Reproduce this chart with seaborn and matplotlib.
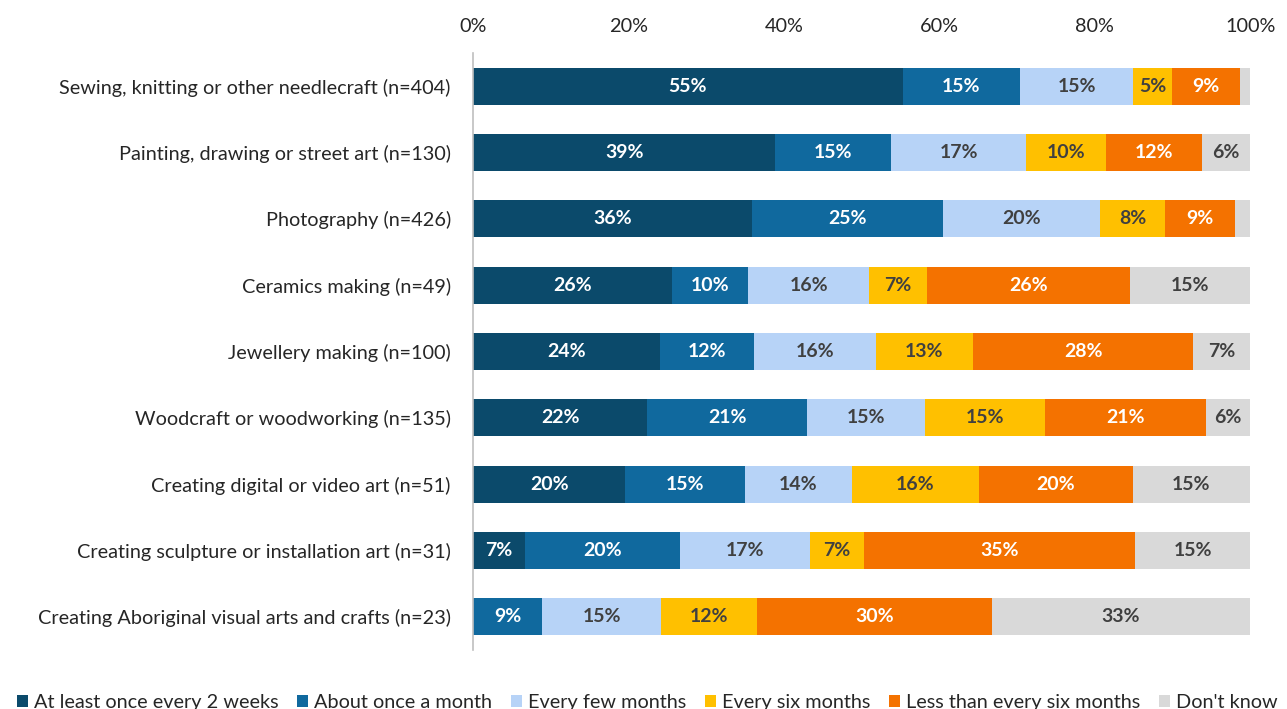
import numpy as np
import pandas as pd
import matplotlib
matplotlib.use("Agg")
import matplotlib.pyplot as plt
import seaborn as sns
from matplotlib.patches import Patch

categories = [
    "Sewing, knitting or other needlecraft (n=404)",
    "Painting, drawing or street art (n=130)",
    "Photography (n=426)",
    "Ceramics making (n=49)",
    "Jewellery making (n=100)",
    "Woodcraft or woodworking (n=135)",
    "Creating digital or video art (n=51)",
    "Creating sculpture or installation art (n=31)",
    "Creating Aboriginal visual arts and crafts (n=23)",
]
series_names = [
    "At least once every 2 weeks",
    "About once a month",
    "Every few months",
    "Every six months",
    "Less than every six months",
    "Don't know",
]
at_least_2weeks = [55.3, 38.9, 35.9, 25.6, 24.1, 22.4, 19.6, 6.7, 0.0]
once_a_month    = [15.1, 14.9, 24.6, 9.8, 12.1, 20.6, 15.4, 19.9, 8.9]
few_months      = [14.6, 17.4, 20.2, 15.6, 15.6, 15.2, 13.8, 16.8, 15.3]
six_months      = [5.0, 10.3, 8.4, 7.4, 12.6, 15.4, 16.3, 6.9, 12.4]
less_six_months = [8.7, 12.3, 9.0, 26.2, 28.3, 20.7, 19.8, 34.9, 30.2]
dont_know       = [1.3, 6.2, 1.9, 15.4, 7.3, 5.7, 15.1, 14.8, 33.2]
x_ticks = [0, 20, 40, 60, 80, 100]

colors = ["#0B4A6B", "#10699E", "#B7D3F7", "#FFC000", "#F47200", "#D9D9D9"]
text_colors = ["white", "white", "#404040", "#404040", "white", "#404040"]

series = [at_least_2weeks, once_a_month, few_months, six_months, less_six_months, dont_know]
vals = np.array(series)  # shape (6, 9)
cum = np.cumsum(vals, axis=0)

sns.set_theme(style="white")
plt.rcParams["font.family"] = ["Lato", "DejaVu Sans"]

fig = plt.figure(figsize=(12.87, 7.09), dpi=100)
ax = fig.add_axes([0.3675, 0.0832, 0.6038, 0.842])

for k in range(len(series) - 1, -1, -1):
    df = pd.DataFrame({"category": categories, "value": cum[k]})
    sns.barplot(data=df, y="category", x="value", order=categories,
                color=colors[k], saturation=1, width=0.56, ax=ax,
                edgecolor="none", linewidth=0)

# labels
for k in range(len(series)):
    for i in range(len(categories)):
        v = vals[k, i]
        if v < 3:
            continue
        xc = cum[k, i] - v / 2
        ax.text(xc, i, f"{round(v):.0f}%", ha="center", va="center",
                fontsize=14, fontweight="bold", color=text_colors[k])

ax.set_xlim(0, 100)
ax.set_ylim(8.5, -0.5)
ax.xaxis.tick_top()
ax.set_xticks(x_ticks)
ax.set_xticklabels([f"{t}%" for t in x_ticks])
ax.tick_params(axis="x", length=0, labelsize=14.3, pad=13, colors="#262626")
ax.tick_params(axis="y", length=0, labelsize=14.3, pad=16, colors="#262626")
ax.set_xlabel("")
ax.set_ylabel("")
for s in ["top", "right", "bottom"]:
    ax.spines[s].set_visible(False)
ax.spines["left"].set_color("#BFBFBF")
ax.spines["left"].set_linewidth(1.2)

handles = [Patch(facecolor=c, edgecolor="none") for c in colors]
fig.legend(handles, series_names, loc="lower center", bbox_to_anchor=(0.503, -0.028),
           ncol=6, frameon=False, fontsize=14.3, handlelength=0.55, handleheight=0.55,
           handletextpad=0.3, columnspacing=0.95)

fig.savefig("out.png", dpi=100)
